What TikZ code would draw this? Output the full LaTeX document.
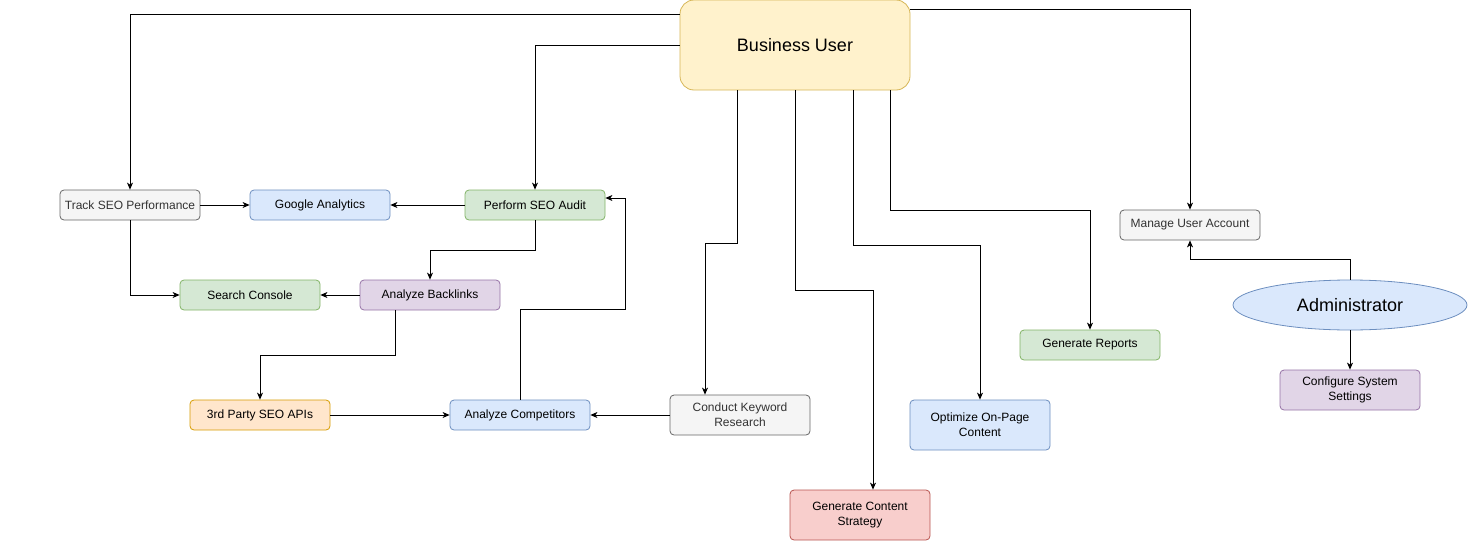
\documentclass[tikz,border=0pt]{standalone}
\usepackage{fontspec}
\setmainfont{Liberation Sans}
\usetikzlibrary{arrows.meta,shapes.geometric,calc}
\definecolor{grayF}{HTML}{F5F5F5}\definecolor{grayD}{HTML}{666666}\definecolor{grayT}{HTML}{333333}
\definecolor{blueF}{HTML}{DAE8FC}\definecolor{blueD}{HTML}{6C8EBF}
\definecolor{greenF}{HTML}{D5E8D4}\definecolor{greenD}{HTML}{82B366}
\definecolor{purpF}{HTML}{E1D5E7}\definecolor{purpD}{HTML}{9673A6}
\definecolor{oranF}{HTML}{FFE6CC}\definecolor{oranD}{HTML}{D79B00}
\definecolor{redF}{HTML}{F8CECC}\definecolor{redD}{HTML}{B85450}
\definecolor{yelF}{HTML}{FFF2CC}\definecolor{yelD}{HTML}{D6B656}
\tikzset{
  box/.style={draw, rounded corners=4pt, minimum width=140pt, minimum height=30pt, inner sep=0pt, align=center, font=\fontsize{12}{15}\selectfont, line width=0.8pt},
  graybox/.style={box, fill=grayF, draw=grayD, text=grayT},
  bluebox/.style={box, fill=blueF, draw=blueD},
  greenbox/.style={box, fill=greenF, draw=greenD},
  purpbox/.style={box, fill=purpF, draw=purpD},
  oranbox/.style={box, fill=oranF, draw=oranD},
  redbox/.style={box, fill=redF, draw=redD},
  arr/.style={draw=black, line width=0.8pt, -{Stealth[length=7pt,width=6pt,inset=2pt]}},
}
\begin{document}
\begin{tikzpicture}[x=1pt,y=-1pt]
\useasboundingbox (0,0) rectangle (1468,541);
\node[box, fill=yelF, draw=yelD, rounded corners=14pt, minimum width=230pt, minimum height=90pt, font=\fontsize{18}{22}\selectfont] (bu) at (795,45) {Business User};
\node[graybox] (track) at (130,205) {Track SEO Performance};
\node[bluebox] (ga) at (320,205) {Google Analytics};
\node[greenbox] (audit) at (535,205) {Perform SEO Audit};
\node[greenbox] (console) at (250,295) {Search Console};
\node[purpbox] (backlinks) at (430,295) {Analyze Backlinks};
\node[oranbox] (apis) at (260,415) {3rd Party SEO APIs};
\node[bluebox] (competitors) at (520,415) {Analyze Competitors};
\node[graybox, minimum height=40pt] (keyword) at (740,415) {Conduct Keyword\\Research};
\node[redbox, minimum height=50pt] (strategy) at (860,515) {Generate Content\\Strategy};
\node[bluebox, minimum height=50pt] (onpage) at (980,425) {Optimize On-Page\\Content};
\node[greenbox] (reports) at (1090,345) {Generate Reports};
\node[graybox] (account) at (1190,225) {Manage User Account};
\node[ellipse, draw=blueD, fill=blueF, line width=0.8pt, minimum width=234pt, minimum height=50pt, inner sep=0pt, font=\fontsize{18}{22}\selectfont] (admin) at (1350,305) {Administrator};
\node[purpbox, minimum height=40pt] (settings) at (1350,390) {Configure System\\Settings};

\draw[arr] ([yshift=-15pt]bu.north west) -| (track.north);
\draw[arr] (bu.west) -| (audit.north);
\draw[arr] ([yshift=-10pt]bu.north east) -| (account.north);
\draw[arr] ([xshift=58pt]bu.south west) -- ++(0,153) -| ([xshift=-35pt]keyword.north);
\draw[arr] (bu.south) -- ++(0,200) -| ([xshift=13pt]strategy.north);
\draw[arr] ([xshift=58pt]bu.south) -- ++(0,155) -| (onpage.north);
\draw[arr] ([xshift=-20pt]bu.south east) -- ++(0,120) -| (reports.north);
\draw[arr] (track.east) -- (ga.west);
\draw[arr] (track.south) |- (console.west);
\draw[arr] (audit.west) -- (ga.east);
\draw[arr] (audit.south) -- ++(0,30) -| (backlinks.north);
\draw[arr] (backlinks.west) -- (console.east);
\draw[arr] ([xshift=-35pt]backlinks.south) -- ++(0,45) -| (apis.north);
\draw[arr] (apis.east) -- (competitors.west);
\draw[arr] (keyword.west) -- (competitors.east);
\draw[arr] (competitors.north) -- ++(0,-90) -- ++(105,0) |- ([yshift=7pt]audit.east);
\draw[arr] (admin.north) -- ++(0,-20) -| (account.south);
\draw[arr] (admin.south) -- (settings.north);
\end{tikzpicture}
\end{document}
